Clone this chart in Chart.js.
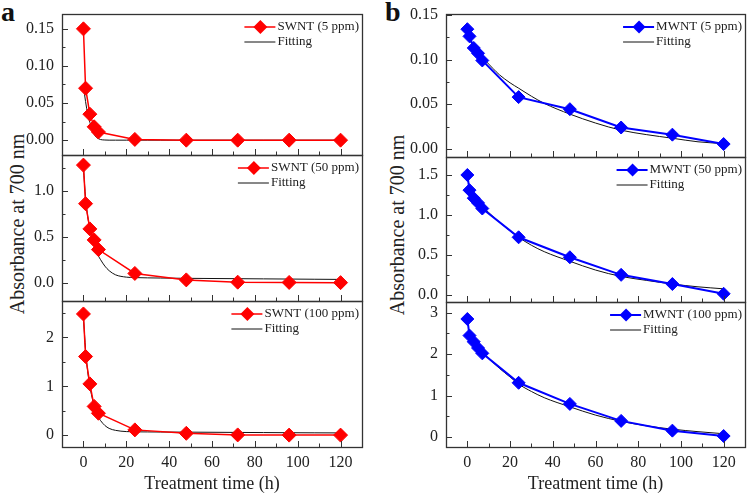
<!DOCTYPE html>
<html>
<head>
<meta charset="utf-8">
<script src="https://cdn.jsdelivr.net/npm/chart.js@4.4.1/dist/chart.umd.min.js"></script>
<style>
  body { margin: 0; background: #fff; }
  #wrap { position: relative; width: 748px; height: 495px; overflow: hidden; font-family: 'Liberation Serif', serif; }
  #wrap canvas { position: absolute; }
  .panel { position: absolute; font-weight: bold; font-size: 28px; line-height: 1; color: #111; }
  .ytitle { position: absolute; font-size: 20px; line-height: 1; color: #222; white-space: nowrap;
            transform: translate(-50%, -50%) rotate(-90deg); }
</style>
</head>
<body>
<div id="wrap">
  <div class="panel" style="left:1px;top:-2px">a</div>
  <div class="panel" style="left:385px;top:-2px">b</div>
  <div class="ytitle" style="left:17px;top:224px">Absorbance at 700 nm</div>
  <div class="ytitle" style="left:397px;top:225px">Absorbance at 700 nm</div>
</div>
<script>
// measured points
const time = [0, 1, 3, 5, 7, 24, 48, 72, 96, 120];
const swnt5 = [0.150, 0.070, 0.035, 0.018, 0.011, 0.001, 0, 0, 0, 0];
const swnt50 = [1.28, 0.86, 0.585, 0.465, 0.36, 0.10, 0.03, 0.005, 0.002, 0];
const swnt100 = [2.48, 1.61, 1.05, 0.59, 0.45, 0.11, 0.04, 0.007, 0.003, 0.003];
const mwnt5 = [0.134, 0.126, 0.113, 0.107, 0.099, 0.058, 0.0445, 0.024, 0.016, 0.0055];
const mwnt50 = [1.50, 1.31, 1.21, 1.15, 1.08, 0.72, 0.47, 0.25, 0.135, 0.013];
const mwnt100 = [2.85, 2.45, 2.30, 2.15, 2.02, 1.31, 0.80, 0.39, 0.155, 0.025];

// fitting curves
const fitTime = [0, 1, 2, 3, 4, 5, 6, 7, 8, 10, 12, 15, 20, 24, 30, 36, 48, 60, 72, 84, 96, 108, 120];
const fitSwnt5 = [0.072, 0.052, 0.035, 0.024, 0.015, 0.008, 0.004, 0.002, 0.0008, 0.0002, 0, 0, 0, 0, 0, 0, 0, 0, 0, 0, 0, 0, 0];
const fitSwnt50 = [1.25, 0.92, 0.72, 0.58, 0.48, 0.40, 0.34, 0.29, 0.25, 0.18, 0.13, 0.085, 0.06, 0.055, 0.052, 0.05, 0.047, 0.045, 0.043, 0.041, 0.039, 0.037, 0.035];
const fitSwnt100 = [2.40, 1.75, 1.30, 1.00, 0.78, 0.60, 0.47, 0.37, 0.30, 0.20, 0.14, 0.10, 0.075, 0.07, 0.068, 0.066, 0.064, 0.061, 0.058, 0.055, 0.052, 0.05, 0.048];
const fitMwnt5 = [0.125, 0.122, 0.118, 0.115, 0.112, 0.109, 0.106, 0.103, 0.100, 0.095, 0.090, 0.083, 0.074, 0.068, 0.059, 0.051, 0.039, 0.029, 0.021, 0.016, 0.012, 0.008, 0.006];
const fitMwnt50 = [1.30, 1.28, 1.25, 1.22, 1.19, 1.16, 1.13, 1.10, 1.08, 1.03, 0.98, 0.91, 0.80, 0.72, 0.62, 0.54, 0.42, 0.31, 0.23, 0.18, 0.135, 0.10, 0.075];
const fitMwnt100 = [2.45, 2.39, 2.33, 2.27, 2.21, 2.15, 2.10, 2.05, 2.00, 1.90, 1.80, 1.66, 1.45, 1.28, 1.10, 0.95, 0.73, 0.53, 0.38, 0.27, 0.19, 0.13, 0.08];

// tick labels
const xTicks = ['0', '20', '40', '60', '80', '100', '120'];
const yTicksSmall = ['0.00', '0.05', '0.10', '0.15'];
const yTicksA2 = ['0.0', '0.5', '1.0'];
const yTicksB2 = ['0.0', '0.5', '1.0', '1.5'];
const yTicksA3 = ['0', '1', '2'];
const yTicksB3 = ['0', '1', '2', '3'];

Chart.defaults.font.family = "'Liberation Serif', serif";
Chart.defaults.color = '#222';

const pts = (xs, ys) => xs.map((x, i) => ({x: x, y: ys[i]}));
const PAD = 22; // room around each plot box inside its canvas

// box, inward ticks and the small legend inside each plot
const frame = {
  id: 'frame',
  afterDraw(chart, args, o) {
    const {ctx, chartArea: a, scales: {x, y}} = chart;
    ctx.save();
    ctx.strokeStyle = '#333';
    ctx.lineWidth = 1;
    ctx.beginPath();
    const xv = xTicks.map(Number), xs = xv[1] - xv[0];
    for (let v = xv[0] - xs / 2; v < x.max; v += xs / 2) {
      if (v <= x.min) continue;
      const p = Math.round(x.getPixelForValue(v)) + 0.5;
      const len = Math.abs((v / xs) % 1) < 1e-6 ? 6 : 3.5;
      ctx.moveTo(p, a.bottom); ctx.lineTo(p, a.bottom - len);
    }
    const yv = o.yTicks.map(Number), ys = yv[1] - yv[0];
    for (let v = yv[0] - ys / 2; v < y.max; v += ys / 2) {
      if (v <= y.min) continue;
      const p = Math.round(y.getPixelForValue(v)) + 0.5;
      const major = yv.some(t => Math.abs(t - v) < ys * 1e-3);
      ctx.moveTo(a.left, p); ctx.lineTo(a.left + (major ? 6 : 3.5), p);
    }
    ctx.stroke();
    ctx.lineWidth = 1.3;
    ctx.strokeRect(Math.round(a.left) + 0.5, Math.round(a.top) + 0.5, Math.round(a.right - a.left), Math.round(a.bottom - a.top));

    // legend
    ctx.font = "13px 'Liberation Serif'";
    const w = Math.max(ctx.measureText(o.label).width, ctx.measureText('Fitting').width);
    const tx = a.right - 3 - w;
    const y1 = a.top + 13, y2 = a.top + 28;
    ctx.fillStyle = '#222';
    ctx.textBaseline = 'middle';
    ctx.fillText(o.label, tx, y1);
    ctx.fillText('Fitting', tx, y2);
    ctx.strokeStyle = o.color;
    ctx.lineWidth = o.lw;
    ctx.beginPath(); ctx.moveTo(tx - 33, y1); ctx.lineTo(tx - 2, y1); ctx.stroke();
    ctx.fillStyle = o.color;
    ctx.beginPath();
    ctx.moveTo(tx - 17, y1 - o.r); ctx.lineTo(tx - 17 + o.r, y1); ctx.lineTo(tx - 17, y1 + o.r); ctx.lineTo(tx - 17 - o.r, y1);
    ctx.closePath(); ctx.fill();
    ctx.strokeStyle = '#111';
    ctx.lineWidth = 1;
    ctx.beginPath(); ctx.moveTo(tx - 33, y2); ctx.lineTo(tx - 2, y2); ctx.stroke();
    ctx.restore();
  }
};

function subplot(o) {
  const c = document.createElement('canvas');
  const bottomRow = o.bottomRow;
  const top = o.top - PAD;
  const height = bottomRow ? 495 - top : o.bottom - o.top + 2 * PAD;
  c.width = 374; c.height = height;
  c.style.left = o.left + 'px'; c.style.top = top + 'px';
  c.style.width = '374px'; c.style.height = height + 'px';
  document.getElementById('wrap').appendChild(c);

  new Chart(c, {
    type: 'scatter',
    data: {
      datasets: [{
        data: pts(time, o.values),
        showLine: true,
        borderColor: o.color,
        backgroundColor: o.color,
        borderWidth: o.lw,
        pointStyle: 'rectRot',
        pointRadius: o.r,
        pointBorderWidth: 1
      }, {
        data: pts(fitTime, o.fit),
        showLine: true,
        borderColor: '#111',
        borderWidth: 1,
        pointRadius: 0,
        cubicInterpolationMode: 'monotone'
      }]
    },
    options: {
      responsive: false,
      animation: false,
      events: [],
      layout: {autoPadding: false, padding: {top: PAD, bottom: bottomRow ? 0 : PAD, left: 0, right: 374 - o.plotRight}},
      plugins: {
        legend: {display: false},
        tooltip: {enabled: false},
        frame: {yTicks: o.yTicks, label: o.label, color: o.color, lw: o.lw, r: o.r}
      },
      scales: {
        x: {
          type: 'linear',
          min: -10, max: 130,
          grid: {display: false, drawTicks: false},
          border: {display: false},
          afterBuildTicks: s => { s.ticks = xTicks.map(v => ({value: Number(v)})); },
          afterFit: s => { s.height = bottomRow ? 48 : 0; },
          ticks: {
            display: bottomRow,
            autoSkip: false, maxRotation: 0,
            padding: 6,
            font: {size: 16},
            callback: (v, i) => xTicks[i]
          },
          title: {display: bottomRow, text: 'Treatment time (h)', font: {size: 18}, padding: 0}
        },
        y: {
          min: o.yMin, max: o.yMax,
          grid: {display: false, drawTicks: false},
          border: {display: false},
          afterBuildTicks: s => { s.ticks = o.yTicks.map(v => ({value: Number(v)})); },
          afterFit: s => { s.width = o.plotLeft; },
          ticks: {padding: 8, font: {size: 16}, callback: (v, i) => o.yTicks[i]}
        }
      }
    },
    plugins: [frame]
  });
}

const red = '#ff0000', blue = '#0000ff';
// panel a
subplot({left: 0, plotLeft: 62, plotRight: 362, top: 14, bottom: 155, yMin: -0.02, yMax: 0.17, yTicks: yTicksSmall,
         values: swnt5, fit: fitSwnt5, label: 'SWNT (5 ppm)', color: red, lw: 1.5, r: 7});
subplot({left: 0, plotLeft: 62, plotRight: 362, top: 155, bottom: 301, yMin: -0.2, yMax: 1.39, yTicks: yTicksA2,
         values: swnt50, fit: fitSwnt50, label: 'SWNT (50 ppm)', color: red, lw: 1.5, r: 7});
subplot({left: 0, plotLeft: 62, plotRight: 362, top: 301, bottom: 447, yMin: -0.24, yMax: 2.745, yTicks: yTicksA3,
         values: swnt100, fit: fitSwnt100, label: 'SWNT (100 ppm)', color: red, lw: 1.5, r: 7, bottomRow: true});
// panel b
subplot({left: 374, plotLeft: 72, plotRight: 371, top: 14, bottom: 157, yMin: -0.009, yMax: 0.151, yTicks: yTicksSmall,
         values: mwnt5, fit: fitMwnt5, label: 'MWNT (5 ppm)', color: blue, lw: 2, r: 6.5});
subplot({left: 374, plotLeft: 72, plotRight: 371, top: 157, bottom: 302, yMin: -0.09, yMax: 1.725, yTicks: yTicksB2,
         values: mwnt50, fit: fitMwnt50, label: 'MWNT (50 ppm)', color: blue, lw: 2, r: 6.5});
subplot({left: 374, plotLeft: 72, plotRight: 371, top: 302, bottom: 447, yMin: -0.24, yMax: 3.26, yTicks: yTicksB3,
         values: mwnt100, fit: fitMwnt100, label: 'MWNT (100 ppm)', color: blue, lw: 2, r: 6.5, bottomRow: true});
</script>
</body>
</html>
